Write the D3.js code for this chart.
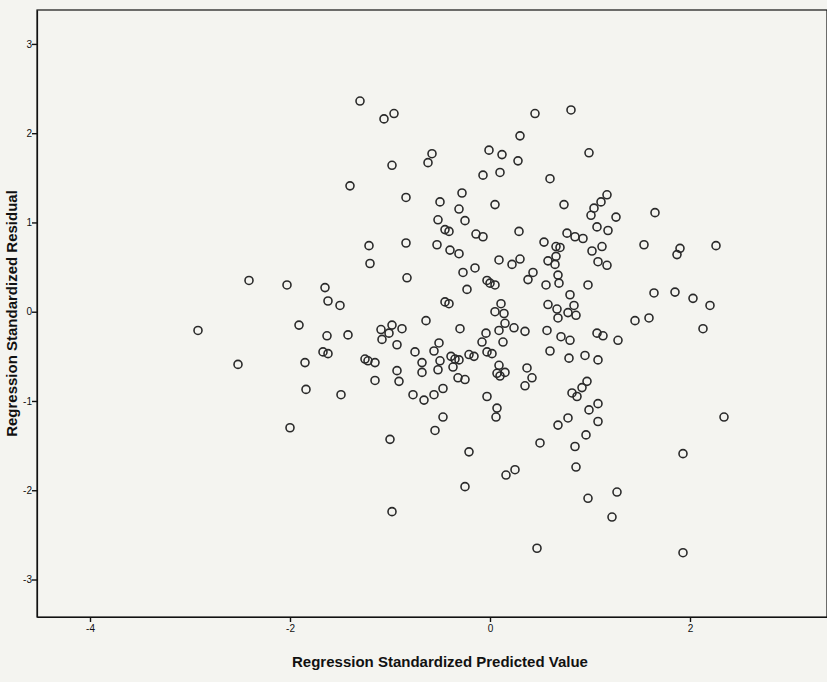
<!DOCTYPE html>
<html>
<head>
<meta charset="utf-8">
<script src="https://cdn.jsdelivr.net/npm/d3@7"></script>
<style>
  html, body { margin: 0; padding: 0; background: #f4f4f0; }
  svg { display: block; }
</style>
</head>
<body>
<div id="chart"></div>
<script>
// tick labels
const xTicks = [-4, -2, 0, 2];
const yTicks = [-3, -2, -1, 0, 1, 2, 3];

// standardized predicted value / standardized residual
const predicted = [
  -2.92, -2.52, -2.41, -2.03, -2.00, -1.30, -1.06, -0.96, -0.58, -0.62,
  -0.98, -1.40, -0.84, -0.50, -0.52, -1.21, -0.84, -0.53, -1.20, -0.83,
  -1.65, 0.45, 0.81, 0.30, -0.01, 0.12, 0.28, -0.07, 0.10, 0.60,
  -0.28, -0.31, 0.05, 0.74, -0.25, -0.45, -0.41, -0.14, -0.07, 0.29,
  0.77, 0.85, 0.93, -0.40, -0.31, 0.54, 0.66, 0.70, 0.09, 0.30,
  0.22, 0.58, 0.66, 0.65, -0.27, -0.15, -0.03, 0.00, 0.05, 0.43,
  0.38, 0.68, 0.69, 0.56, -0.23, 0.99, 1.17, 1.11, 1.04, 1.01,
  1.26, 1.65, 1.07, 1.18, 1.02, 1.12, 1.08, 1.17, 1.54, 1.90,
  1.87, 2.26, 0.98, -1.62, -1.50, -1.91, -1.63, -1.42, -0.64, -1.09,
  -0.98, -0.88, -1.01, -1.08, -0.93, -0.51, -1.67, -1.62, -1.85, -1.25,
  -1.22, -1.15, -0.75, -0.56, -0.68, -0.68, -0.52, -0.93, -0.91, -1.15,
  -1.84, -1.49, -0.77, -0.66, -0.56, -0.55, -1.00, -0.47, -0.45, -0.41,
  0.11, 0.05, 0.14, 0.58, 0.67, 0.80, 0.84, 0.78, 0.86, 0.68,
  -0.30, 0.15, 0.09, 0.24, 0.35, 0.57, 0.71, 0.80, -0.04, -0.08,
  0.13, -0.03, 0.02, -0.21, -0.16, -0.39, -0.35, -0.31, -0.50, 0.60,
  0.79, -0.37, 0.09, 0.07, 0.10, 0.15, 0.37, 0.42, 0.35, -0.32,
  -0.25, -0.47, -0.03, 0.07, 0.06, 0.78, 0.68, 0.82, 0.87, 0.50,
  -0.21, 1.64, 1.85, 2.03, 2.20, 2.13, 1.45, 1.59, 1.07, 1.13,
  1.28, 0.95, 1.08, 0.97, 0.92, 1.08, 0.99, 1.08, 0.96, 0.85,
  2.34, 1.93, -0.98, 0.25, 0.16, -0.25, 0.86, 0.47, 1.27, 0.98,
  1.22, 1.93
];
const residual = [
  -0.21, -0.59, 0.35, 0.30, -1.30, 2.36, 2.16, 2.22, 1.77, 1.67,
  1.64, 1.41, 1.28, 1.23, 1.03, 0.74, 0.77, 0.75, 0.54, 0.38,
  0.27, 2.22, 2.26, 1.97, 1.81, 1.76, 1.69, 1.53, 1.56, 1.49,
  1.33, 1.15, 1.20, 1.20, 1.02, 0.92, 0.90, 0.87, 0.84, 0.90,
  0.88, 0.84, 0.82, 0.69, 0.65, 0.78, 0.73, 0.72, 0.58, 0.59,
  0.53, 0.57, 0.62, 0.53, 0.44, 0.49, 0.35, 0.32, 0.30, 0.44,
  0.36, 0.41, 0.32, 0.30, 0.25, 1.78, 1.31, 1.23, 1.16, 1.08,
  1.06, 1.11, 0.95, 0.91, 0.68, 0.73, 0.56, 0.52, 0.75, 0.71,
  0.64, 0.74, 0.30, 0.12, 0.07, -0.15, -0.27, -0.26, -0.10, -0.20,
  -0.15, -0.19, -0.24, -0.31, -0.37, -0.35, -0.45, -0.47, -0.57, -0.53,
  -0.55, -0.57, -0.45, -0.44, -0.57, -0.68, -0.65, -0.66, -0.78, -0.77,
  -0.87, -0.93, -0.93, -0.99, -0.93, -1.33, -1.43, -1.18, 0.11, 0.09,
  0.09, 0.00, -0.02, 0.08, 0.03, 0.19, 0.07, -0.01, -0.04, -0.07,
  -0.19, -0.13, -0.21, -0.18, -0.22, -0.21, -0.28, -0.32, -0.24, -0.34,
  -0.34, -0.45, -0.47, -0.48, -0.50, -0.50, -0.53, -0.54, -0.55, -0.44,
  -0.52, -0.62, -0.60, -0.69, -0.72, -0.68, -0.63, -0.74, -0.83, -0.74,
  -0.76, -0.86, -0.95, -1.08, -1.18, -1.19, -1.27, -0.91, -0.95, -1.47,
  -1.57, 0.21, 0.22, 0.15, 0.07, -0.19, -0.10, -0.07, -0.24, -0.27,
  -0.32, -0.49, -0.54, -0.78, -0.85, -1.03, -1.10, -1.23, -1.38, -1.51,
  -1.18, -1.59, -2.24, -1.77, -1.83, -1.96, -1.74, -2.65, -2.02, -2.09,
  -2.30, -2.70
];

const W = 827, H = 682;
const margin = { left: 37, top: 10, right: 0, bottom: 65 };
const font = "Liberation Sans, Arial, sans-serif";

const svg = d3.select("#chart").append("svg")
  .attr("width", W)
  .attr("height", H);

const x = d3.scaleLinear().domain([-4.53, 3.37]).range([margin.left, W - margin.right]);
const y = d3.scaleLinear().domain([-3.42, 3.38]).range([H - margin.bottom, margin.top]);

// plot frame
svg.append("rect")
  .attr("x", margin.left)
  .attr("y", margin.top)
  .attr("width", W - margin.right - margin.left)
  .attr("height", H - margin.bottom - margin.top)
  .attr("fill", "#f4f4f0")
  .attr("stroke", "#111")
  .attr("stroke-width", 1.2);

const xAxis = svg.append("g")
  .attr("transform", `translate(0,${H - margin.bottom})`)
  .call(d3.axisBottom(x).tickValues(xTicks).tickFormat(d => String(d)).tickSize(5).tickSizeOuter(0));

const yAxis = svg.append("g")
  .attr("transform", `translate(${margin.left},0)`)
  .call(d3.axisLeft(y).tickValues(yTicks).tickFormat(d => String(d)).tickSize(5).tickSizeOuter(0));

[xAxis, yAxis].forEach(a => {
  a.select(".domain").attr("stroke", "#111").attr("stroke-width", 1.2);
  a.selectAll(".tick line").attr("stroke", "#111").attr("stroke-width", 1.4);
  a.selectAll(".tick text")
    .attr("fill", "#111")
    .attr("font-family", font)
    .attr("font-size", "10px");
});
yAxis.selectAll(".tick text").attr("x", -5);

const pts = predicted.map((p, i) => ({ p, r: residual[i] }));

svg.append("g")
  .selectAll("circle")
  .data(pts)
  .join("circle")
  .attr("cx", d => x(d.p))
  .attr("cy", d => y(d.r))
  .attr("r", 4)
  .attr("fill", "none")
  .attr("stroke", "#2a2a2a")
  .attr("stroke-width", 1.6);

svg.append("text")
  .attr("x", 440)
  .attr("y", 667)
  .attr("text-anchor", "middle")
  .attr("font-family", font)
  .attr("font-size", "15px")
  .attr("font-weight", "bold")
  .attr("fill", "#111")
  .text("Regression Standardized Predicted Value");

svg.append("text")
  .attr("transform", `translate(17,${(margin.top + H - margin.bottom) / 2}) rotate(-90)`)
  .attr("text-anchor", "middle")
  .attr("font-family", font)
  .attr("font-size", "15px")
  .attr("font-weight", "bold")
  .attr("fill", "#111")
  .text("Regression Standardized Residual");
</script>
</body>
</html>
